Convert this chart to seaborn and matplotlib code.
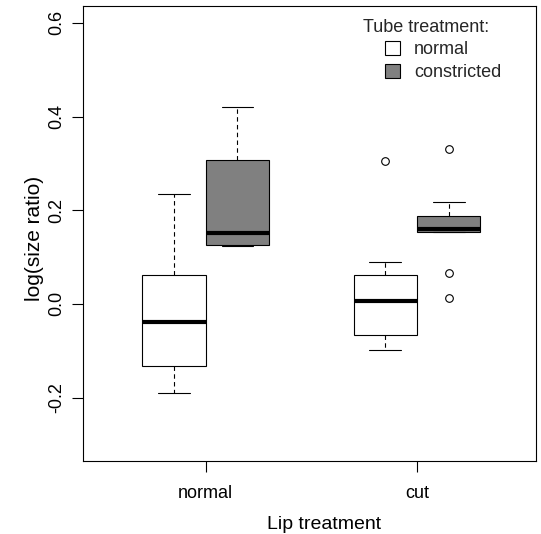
import numpy as np
import pandas as pd
import matplotlib
matplotlib.use("Agg")
import matplotlib.pyplot as plt
from matplotlib.patches import Patch
import seaborn as sns

# ---- data ----
lip_levels = ["normal", "cut"]
tube_levels = ["normal", "constricted"]
normal_normal = [-0.191, -0.133, -0.038, 0.061, 0.234]
normal_constricted = [0.124, 0.126, 0.151, 0.307, 0.420]
cut_normal = [-0.098, -0.067, -0.067, 0.0064, 0.0064, 0.061, 0.061, 0.090, 0.306]
cut_constricted = [0.013, 0.067, 0.153, 0.160, 0.160, 0.187, 0.187, 0.217, 0.331]
y_ticks = [-0.2, 0.0, 0.2, 0.4, 0.6]
y_tick_labels = ["-0.2", "0.0", "0.2", "0.4", "0.6"]

groups = [("normal", "normal", normal_normal),
          ("normal", "constricted", normal_constricted),
          ("cut", "normal", cut_normal),
          ("cut", "constricted", cut_constricted)]
rows = []
for lip, tube, vals in groups:
    for v in vals:
        rows.append({"lip": lip, "tube": tube, "value": v})
df = pd.DataFrame(rows)

sns.set_theme(style="white")
plt.rcParams["font.family"] = ["Liberation Sans", "DejaVu Sans"]

W, H = 541, 534
fig = plt.figure(figsize=(W / 100, H / 100), dpi=100)
L, R, T, B = 83.3, 536.0, 6.0, 461.3
ax = fig.add_axes([L / W, 1 - B / H, (R - L) / W, (B - T) / H])

lw = 0.8
sns.boxplot(
    data=df, x="lip", y="value", hue="tube",
    order=lip_levels, hue_order=tube_levels,
    palette={"normal": "white", "constricted": "#808080"},
    saturation=1, width=0.6, gap=0, dodge=True,
    linecolor="black", linewidth=lw, whis=1.5,
    flierprops=dict(marker="o", markersize=5.5, markerfacecolor="none",
                    markeredgecolor="black", markeredgewidth=lw),
    medianprops=dict(linewidth=3.0, color="black"),
    whiskerprops=dict(linestyle=(0, (4, 3)), color="black", linewidth=lw),
    capprops=dict(color="black", linewidth=lw),
    legend=False, ax=ax,
)

ax.set_xlim(-0.579, 1.563)
ax.set_ylim(-0.336, 0.636)
ax.set_yticks(y_ticks)
ax.set_yticklabels(y_tick_labels, rotation=90, va="center")
for s in ax.spines.values():
    s.set_visible(True)
    s.set_color("black")
    s.set_linewidth(lw)
ax.tick_params(axis="both", which="both", direction="out", length=8, width=lw,
               color="black", labelsize=13, labelcolor="black",
               left=True, bottom=True)
ax.tick_params(axis="y", pad=5)
ax.tick_params(axis="x", pad=9)
ax.grid(False)

ax.set_xlabel("Lip treatment", fontsize=14, color="black")
ax.set_ylabel("log(size ratio)", fontsize=15, color="black")
ax.xaxis.set_label_coords((324.5 - L) / (R - L), 1 - (516 - T) / (B - T))
ax.yaxis.set_label_coords((35 - L) / (R - L), 1 - (238 - T) / (B - T))
ax.xaxis.label.set_va("top")
ax.yaxis.label.set_va("center")

# legend
fig.text(363 / W, 1 - 31.7 / H, "Tube treatment:", fontsize=13, va="baseline", ha="left")
handles = [Patch(facecolor="white", edgecolor="black", linewidth=lw),
           Patch(facecolor="#808080", edgecolor="black", linewidth=lw)]
leg = ax.legend(handles, tube_levels, loc="upper left",
                bbox_to_anchor=(385 / W, 1 - 41 / H), bbox_transform=fig.transFigure,
                frameon=False, fontsize=13, handlelength=0.85, handleheight=0.85,
                handletextpad=0.75, labelspacing=0.3, borderpad=0, borderaxespad=0)

fig.savefig("out.png", dpi=100, facecolor="white")
